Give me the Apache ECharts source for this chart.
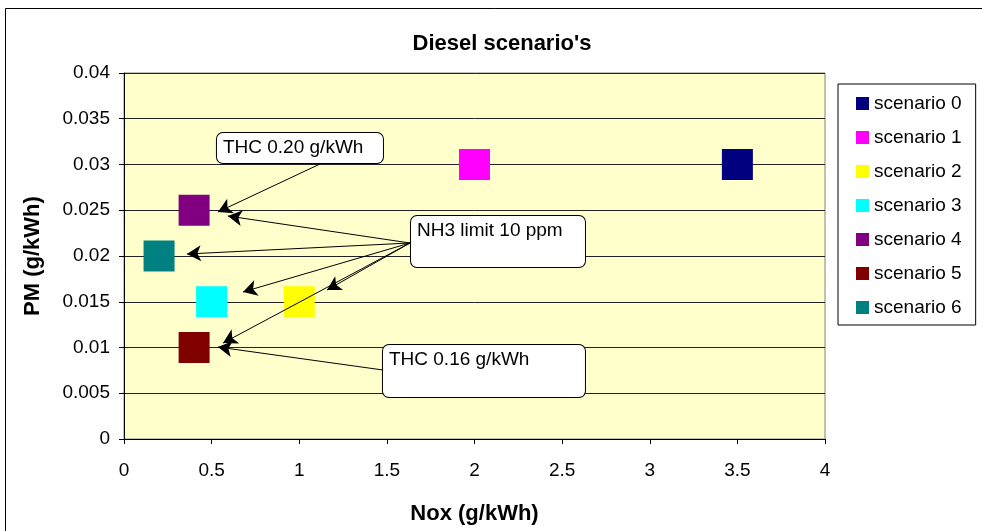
<!DOCTYPE html>
<html>
<head>
<meta charset="utf-8">
<script src="https://cdn.jsdelivr.net/npm/echarts@6/dist/echarts.min.js"></script>
<style>
html,body{margin:0;padding:0;background:#fff;}
#chart{width:982px;height:531px;}
</style>
</head>
<body>
<div id="chart"></div>
<script>
// ---- data ----
const seriesNames = ['scenario 0','scenario 1','scenario 2','scenario 3','scenario 4','scenario 5','scenario 6'];
const noxValues = [3.5, 2.0, 1.0, 0.5, 0.4, 0.4, 0.2];
const pmValues  = [0.03, 0.03, 0.015, 0.015, 0.025, 0.01, 0.02];
const seriesColors = ['#000080','#FF00FF','#FFFF00','#00FFFF','#800080','#800000','#008080'];
const xTicks = [0, 4, 0.5];      // min, max, interval
const yTicks = [0, 0.04, 0.005]; // min, max, interval

// callouts (data coordinates)
const calloutTexts = ['THC 0.20 g/kWh', 'NH3 limit 10 ppm', 'THC 0.16 g/kWh'];
const calloutCenters = [[1.004, 0.0318], [2.134, 0.02158], [2.054, 0.00743]];
const arrowStarts = [[1.13, 0.03016], [1.632, 0.02142], [1.632, 0.02142], [1.632, 0.02142], [1.632, 0.02142], [1.632, 0.02142], [1.478, 0.00754]];
const arrowEnds   = [[0.536, 0.02481], [0.593, 0.02437], [0.359, 0.02022], [0.679, 0.01607], [1.158, 0.01628], [0.565, 0.01049], [0.536, 0.01005]];

const calloutSizes = [[166, 30], [174, 51], [202, 52]];

const FONT = 'Liberation Sans, Arial, sans-serif';

const chart = echarts.init(document.getElementById('chart'), null, {renderer: 'canvas'});

const series = seriesNames.map((n, i) => ({
  name: n,
  type: 'scatter',
  symbol: 'rect',
  symbolSize: 31,
  itemStyle: {color: seriesColors[i], opacity: 1},
  data: [[noxValues[i], pmValues[i]]],
  z: 3,
  animation: false
}));

const PADX = 6, PADY = 3, LINE1 = 23;
series.push({
  name: 'annotations',
  type: 'scatter',
  data: [],
  z: 5,
  animation: false,
  markLine: {
    silent: true,
    animation: false,
    symbol: ['none', 'arrow'],
    symbolSize: [12, 14],
    lineStyle: {color: '#000', width: 1, type: 'solid'},
    label: {show: false},
    emphasis: {disabled: true},
    data: arrowStarts.map((s, i) => [{coord: s}, {coord: arrowEnds[i]}])
  },
  markPoint: {
    silent: true,
    animation: false,
    symbol: 'rect',
    symbolSize: 2,
    itemStyle: {color: 'rgba(0,0,0,0)', borderWidth: 0},
    label: {show: true, position: 'inside'},
    data: calloutTexts.map((t, i) => {
      const w = calloutSizes[i][0], h = calloutSizes[i][1];
      return {
        name: t,
        coord: calloutCenters[i],
        label: {
          show: true,
          position: 'inside',
          formatter: '{a|' + t + '}\n{b|}',
          backgroundColor: '#fff',
          borderColor: '#000',
          borderWidth: 1,
          borderRadius: 6,
          padding: [PADY, PADX, PADY, PADX],
          rich: {
            a: {width: w - 2 * PADX, height: LINE1, lineHeight: LINE1, align: 'left',
                fontFamily: FONT, fontSize: 19, color: '#000'},
            b: {width: w - 2 * PADX, height: Math.max(0, h - 2 * PADY - LINE1), lineHeight: Math.max(0, h - 2 * PADY - LINE1)}
          }
        }
      };
    })
  }
});

chart.setOption({
  animation: false,
  backgroundColor: '#fff',
  textStyle: {fontFamily: FONT},
  title: {
    text: "Diesel scenario's",
    left: 497,
    textAlign: 'center',
    top: 28,
    textStyle: {fontFamily: FONT, fontSize: 22, fontWeight: 'bold', color: '#000'}
  },
  graphic: [{
    type: 'rect',
    shape: {x: 5.5, y: 8.5, width: 1200, height: 800},
    style: {fill: 'none', stroke: '#000', lineWidth: 1},
    silent: true,
    z: -10
  }],
  grid: {
    left: 124, right: 157, top: 73, bottom: 92,
    show: true,
    backgroundColor: '#FFFFCC',
    borderColor: '#808080',
    borderWidth: 1
  },
  legend: {
    orient: 'vertical',
    left: 838,
    top: 84,
    data: seriesNames,
    icon: 'rect',
    itemWidth: 13,
    itemHeight: 13,
    itemGap: 15,
    padding: [10, 14, 8, 18],
    borderColor: '#000',
    borderWidth: 1,
    backgroundColor: '#fff',
    textStyle: {fontFamily: FONT, fontSize: 19, color: '#000'},
    selectedMode: false
  },
  xAxis: {
    type: 'value',
    min: xTicks[0], max: xTicks[1], interval: xTicks[2],
    name: 'Nox (g/kWh)',
    nameLocation: 'middle',
    nameGap: 64,
    nameTextStyle: {fontFamily: FONT, fontSize: 22, fontWeight: 'bold', color: '#000'},
    axisLine: {show: true, onZero: false, lineStyle: {color: '#000', width: 1}},
    axisTick: {show: true, inside: false, length: 5, lineStyle: {color: '#000'}},
    axisLabel: {fontFamily: FONT, fontSize: 19, color: '#000', margin: 22},
    splitLine: {show: false}
  },
  yAxis: {
    type: 'value',
    min: yTicks[0], max: yTicks[1], interval: yTicks[2],
    name: 'PM (g/kWh)',
    nameLocation: 'middle',
    nameGap: 80,
    nameTextStyle: {fontFamily: FONT, fontSize: 22, fontWeight: 'bold', color: '#000'},
    axisLine: {show: true, onZero: false, lineStyle: {color: '#000', width: 1}},
    axisTick: {show: true, inside: false, length: 5, lineStyle: {color: '#000'}},
    axisLabel: {fontFamily: FONT, fontSize: 19, color: '#000', margin: 14},
    splitLine: {show: true, lineStyle: {color: '#222', width: 1}}
  },
  series: series
});
</script>
</body>
</html>
